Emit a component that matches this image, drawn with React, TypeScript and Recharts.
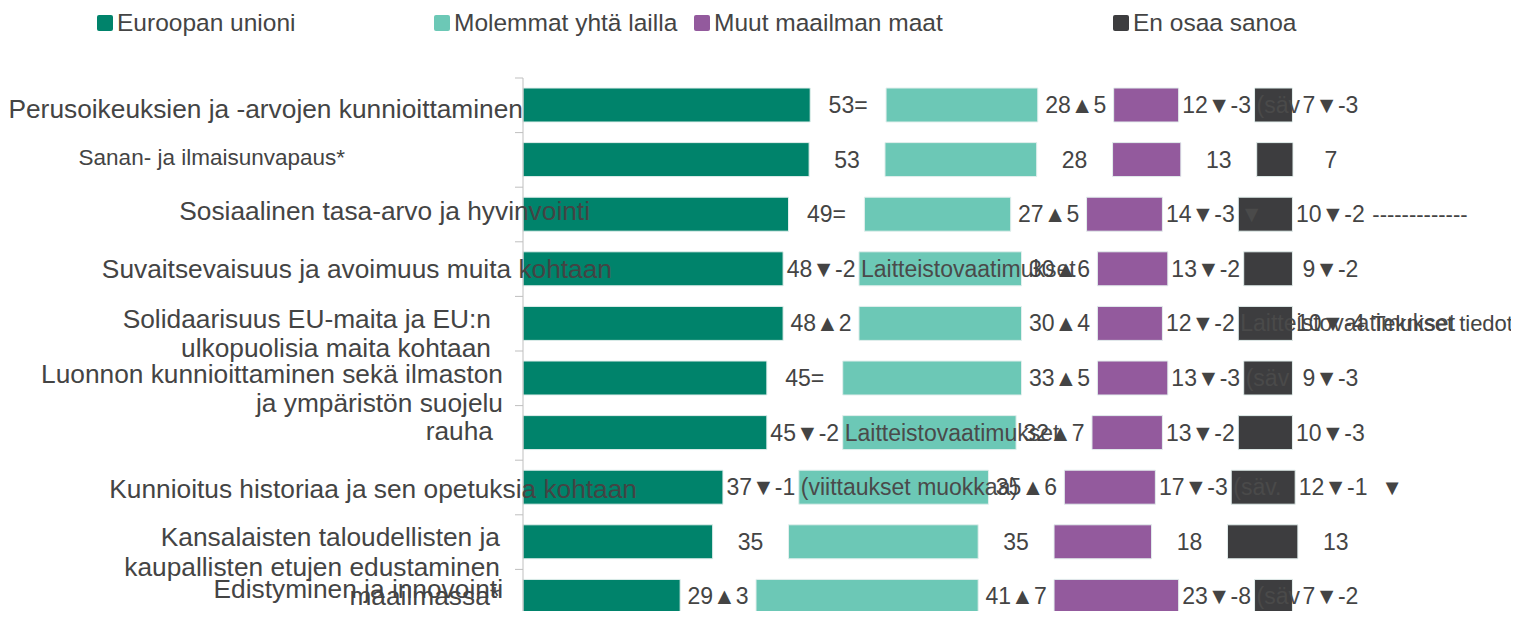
import React from 'react'
import { BarChart, Bar, XAxis, YAxis, LabelList } from 'recharts'

const categories = [
  'Perusoikeuksien ja -arvojen kunnioittaminen',
  'Sanan- ja ilmaisunvapaus*',
  'Sosiaalinen tasa-arvo ja hyvinvointi',
  'Suvaitsevaisuus ja avoimuus muita kohtaan',
  'Solidaarisuus EU-maita ja EU:n\nulkopuolisia maita kohtaan',
  'Luonnon kunnioittaminen sekä ilmaston\nja ympäristön suojelu',
  'rauha',
  'Kunnioitus historiaa ja sen opetuksia kohtaan',
  'Kansalaisten taloudellisten ja\nkaupallisten etujen edustaminen\nmaailmassa*',
  'Edistyminen ja innovointi',
]

// shares in % (labels are rounded)
const euValues = [53, 52.8, 49, 48, 48, 45, 45, 36.9, 35, 29]
const bothValues = [28, 28, 27, 30, 30, 33, 32, 35, 35, 41]
const otherValues = [12, 12.6, 14, 13, 12, 13, 13, 16.8, 18, 23]
const dontKnowValues = [7, 6.7, 10, 9, 10, 9, 10, 11.8, 13, 7]

const euChange = ['=', '', '=', '▼-2', '▲2', '=', '▼-2', '▼-1', '', '▲3']
const bothChange = ['▲5', '', '▲5', '▲6', '▲4', '▲5', '▲7', '▲6', '', '▲7']
const otherChange = ['▼-3', '', '▼-3', '▼-2', '▼-2', '▼-3', '▼-2', '▼-3', '', '▼-8']
const dontKnowChange = ['▼-3', '', '▼-2', '▼-2', '▼-4', '▼-3', '▼-3', '▼-1', '', '▼-2']

// stray texts left over in the source slide
const bothNotes = ['', '', '', 'Laitteistovaatimukset', '', '', 'Laitteistovaatimukset', '(viittaukset muokkaa)', '', '']
const dontKnowNotes = ['(säv', '', '▼', '', 'Laitteistovaatimukset', '(säv', '', '(säv.', '', '(säv']
const trailingNotes = ['', '', '-------------', '', 'Tekniset tiedot', '', '', '\u00a0▼', '', '']

const legendItems = ['Euroopan unioni', 'Molemmat yhtä lailla', 'Muut maailman maat', 'En osaa sanoa']

const COLORS = ['#00836b', '#6cc8b6', '#935a9d', '#3d3d3f']
const TEXT = '#444'
const FONT = '"Liberation Sans", Arial, sans-serif'
const GAP = 14
const AXIS_X = 515
const BAND = 54.6

// label layout tweaks to mimic the slide
const tickShift = [0, -178, 67, 89, -32, -20, -30, 114, -23, -20]
const tickDy = [3, -3, -4, 0, -5, -5, -2, 1, -5, -8]
const tickFont = [26.3, 22.5, 26.3, 26.3, 26.3, 26.3, 26.3, 26.3, 26.3, 26.3]
const legendLeft = [89, 426, 686, 1105]

const fmt = (v: number, change: string) => `${Math.round(v)}${change}`

const data = categories.map((name, i) => ({
  name,
  eu: euValues[i],
  gap1: GAP,
  both: bothValues[i],
  gap2: GAP,
  other: otherValues[i],
  gap3: GAP,
  dk: dontKnowValues[i],
  gap4: GAP,
  euLabel: fmt(euValues[i], euChange[i]),
  bothLabel: fmt(bothValues[i], bothChange[i]),
  otherLabel: fmt(otherValues[i], otherChange[i]),
  dkLabel: fmt(dontKnowValues[i], dontKnowChange[i]),
  bothNote: bothNotes[i],
  dkNote: dontKnowNotes[i],
  trailNote: trailingNotes[i],
}))

function CenterLabel(props: any) {
  const { x, y, width, height, value } = props
  if (!value) return null
  return (
    <text
      x={x + width / 2}
      y={y + height / 2}
      textAnchor="middle"
      dominantBaseline="central"
      fontSize={23}
      fontFamily={FONT}
      fill={TEXT}
    >
      {value}
    </text>
  )
}

function NoteLabel(props: any) {
  const { x, y, height, value } = props
  if (!value) return null
  return (
    <text x={x + 2} y={y + height / 2} dominantBaseline="central" fontSize={23} fontFamily={FONT} fill="#4a4a4a">
      {value}
    </text>
  )
}

function TrailLabel(props: any) {
  const { x, y, width, height, value } = props
  if (!value) return null
  return (
    <text x={x + width + 4} y={y + height / 2} dominantBaseline="central" fontSize={22} fontFamily={FONT} fill={TEXT}>
      {value}
    </text>
  )
}

function CategoryTick(props: any) {
  const { y, payload, index } = props
  const lines = String(payload.value).split('\n')
  const right = AXIS_X + (tickShift[index] ?? 0)
  const top = y - BAND / 2
  const size = tickFont[index] ?? 26
  return (
    <g>
      <line x1={AXIS_X - 8} x2={AXIS_X} y1={top} y2={top} stroke="#bfbfbf" />
      <text x={right} y={y + (tickDy[index] ?? 0)} textAnchor="end" fontSize={size} fontFamily={FONT} fill={TEXT}>
        {lines.map((l, i) => (
          <tspan key={i} x={right} dy={i === 0 ? size * 0.35 : 29.5}>
            {l}
          </tspan>
        ))}
      </text>
    </g>
  )
}

function LegendRow() {
  return (
    <div style={{ position: 'absolute', top: 0, left: 0, width: 1511, height: 40, fontFamily: FONT, fontSize: 24.5, color: TEXT }}>
      {legendItems.map((label, i) => (
        <div key={label} style={{ position: 'absolute', left: legendLeft[i], top: 1, display: 'flex', alignItems: 'center', whiteSpace: 'nowrap' }}>
          <span style={{ width: 16, height: 16, background: COLORS[i], borderRadius: 2, marginRight: 4, display: 'inline-block' }} />
          {label}
        </div>
      ))}
    </div>
  )
}

export default function App() {
  const stroke = '#e3efed'
  return (
    <div style={{ position: 'relative', width: 1511, height: 611, overflow: 'hidden', marginBottom: -8 }}>
      <LegendRow />
      <BarChart
        width={1511}
        height={616}
        data={data}
        layout="vertical"
        margin={{ top: 70, right: 129, left: 0, bottom: 0 }}
        style={{ overflow: 'visible' }}
      >
        <XAxis type="number" domain={[0, 160]} hide />
        <YAxis
          type="category"
          dataKey="name"
          width={AXIS_X}
          axisLine={{ stroke: '#bfbfbf' }}
          tickLine={false}
          tick={<CategoryTick />}
          interval={0}
        />
        <Bar dataKey="eu" stackId="a" fill={COLORS[0]} stroke={stroke} barSize={34} isAnimationActive={false} />
        <Bar dataKey="gap1" stackId="a" fill="transparent" isAnimationActive={false}>
          <LabelList dataKey="euLabel" content={<CenterLabel />} />
        </Bar>
        <Bar dataKey="both" stackId="a" fill={COLORS[1]} stroke={stroke} isAnimationActive={false}>
          <LabelList dataKey="bothNote" content={<NoteLabel />} />
        </Bar>
        <Bar dataKey="gap2" stackId="a" fill="transparent" isAnimationActive={false}>
          <LabelList dataKey="bothLabel" content={<CenterLabel />} />
        </Bar>
        <Bar dataKey="other" stackId="a" fill={COLORS[2]} stroke={stroke} isAnimationActive={false} />
        <Bar dataKey="gap3" stackId="a" fill="transparent" isAnimationActive={false}>
          <LabelList dataKey="otherLabel" content={<CenterLabel />} />
        </Bar>
        <Bar dataKey="dk" stackId="a" fill={COLORS[3]} stroke={stroke} isAnimationActive={false}>
          <LabelList dataKey="dkNote" content={<NoteLabel />} />
        </Bar>
        <Bar dataKey="gap4" stackId="a" fill="transparent" isAnimationActive={false}>
          <LabelList dataKey="dkLabel" content={<CenterLabel />} />
          <LabelList dataKey="trailNote" content={<TrailLabel />} />
        </Bar>
      </BarChart>
    </div>
  )
}
